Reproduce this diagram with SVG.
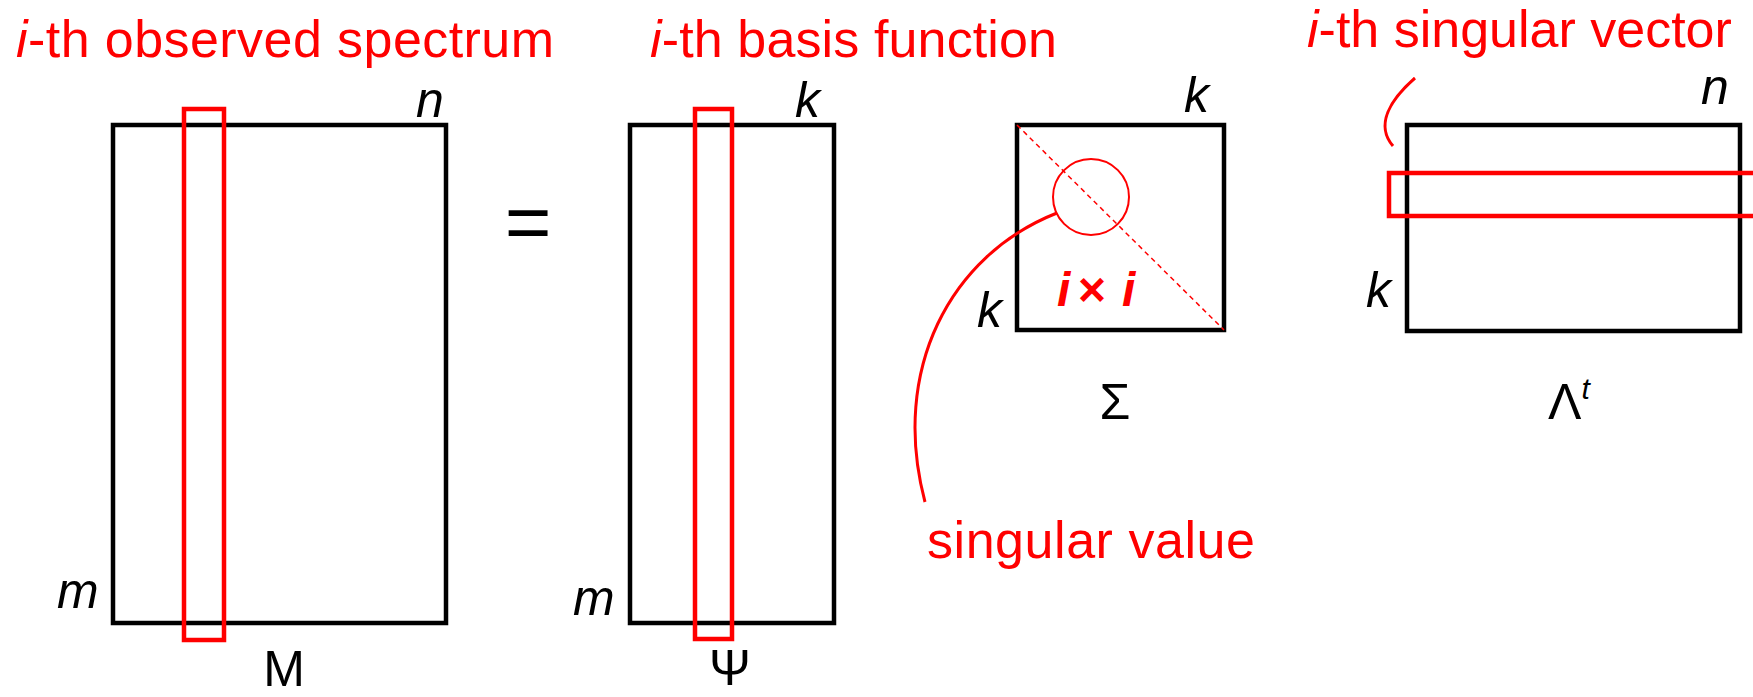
<svg xmlns="http://www.w3.org/2000/svg" width="1753" height="697" viewBox="0 0 1753 697">
<style>
text{font-family:"Liberation Sans",Arial,sans-serif}
.t{fill:#f00;font-size:52px}
.lab{fill:#000;font-size:50px;font-style:italic}
.nm{fill:#000;font-size:50px}
.mat{fill:none;stroke:#000;stroke-width:4.5}
.sel{fill:none;stroke:#f00;stroke-width:4.5}
</style>
<rect width="1753" height="697" fill="#fff"/>
<g id="titles">
<text class="t" x="16" y="57" font-size="53.5" textLength="538"><tspan font-style="italic">i</tspan>-th observed spectrum</text>
<text class="t" x="650" y="57" textLength="407"><tspan font-style="italic">i</tspan>-th basis function</text>
<text class="t" x="1307" y="47" font-size="51.5"><tspan font-style="italic">i</tspan>-th singular vector</text>
</g>
<g id="matrixM">
<rect class="mat" x="113" y="125" width="333" height="498"/>
<rect class="sel" x="184" y="109" width="40" height="531"/>
<text class="lab" x="416" y="117">n</text>
<text class="lab" x="57" y="608">m</text>
<text class="nm" x="284" y="686" text-anchor="middle">M</text>
</g>
<g id="equals">
<text x="528" y="249" font-size="80" text-anchor="middle">=</text>
</g>
<g id="matrixPsi">
<rect class="mat" x="630" y="125" width="204" height="498"/>
<rect class="sel" x="695" y="109" width="37" height="530"/>
<text class="lab" x="795" y="117">k</text>
<text class="lab" x="573" y="615">m</text>
<text class="nm" x="730" y="685" text-anchor="middle">Ψ</text>
</g>
<g id="matrixSigma">
<rect class="mat" x="1017" y="125" width="207" height="205"/>
<line x1="1017" y1="125" x2="1224" y2="330" stroke="#f00" stroke-width="1.5" stroke-dasharray="5 4"/>
<circle cx="1091" cy="197" r="38" fill="none" stroke="#f00" stroke-width="2"/>
<text x="0" y="306" fill="#f00" font-size="48" font-weight="bold" font-style="italic"><tspan x="1057">i</tspan><tspan x="1077">×</tspan><tspan x="1122">i</tspan></text>
<text class="lab" x="1184" y="112">k</text>
<text class="lab" x="977" y="327">k</text>
<text class="nm" x="1115" y="419" text-anchor="middle">Σ</text>
</g>
<g id="matrixLambda">
<rect class="mat" x="1407" y="125" width="333" height="206"/>
<rect class="sel" x="1389" y="173" width="400" height="43"/>
<text class="lab" x="1701" y="104">n</text>
<text class="lab" x="1366" y="307">k</text>
<text class="nm" x="1548" y="419">Λ<tspan font-size="30" font-style="italic" dy="-20">t</tspan></text>
</g>
<g id="connectors" fill="none" stroke="#f00">
<path d="M1057 213 C950 255 890 370 925 502" stroke-width="3"/>
<path d="M1415 78 C1390 100 1375 125 1393 146" stroke-width="3"/>
</g>
<g id="singular-value">
<text class="t" x="927" y="558" font-size="54" textLength="328">singular value</text>
</g>
</svg>
